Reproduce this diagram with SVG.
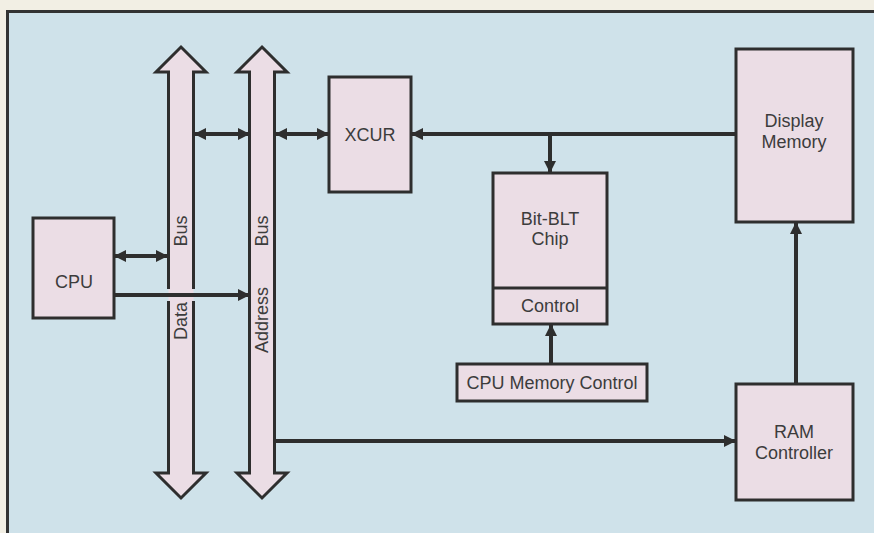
<svg xmlns="http://www.w3.org/2000/svg" width="874" height="533" viewBox="0 0 874 533">
<defs>
<style>
.box{fill:#ebdde5;stroke:#2e2e2e;stroke-width:3}
.busfill{fill:#ebdde5;stroke:none}
.busline{fill:none;stroke:#2e2e2e;stroke-width:3;stroke-linejoin:miter}
.conn{fill:none;stroke:#2e2e2e;stroke-width:4}
.lbl{font-family:"Liberation Sans",Arial,sans-serif;font-size:18px;fill:#3c3c3c;text-anchor:middle}
</style>
<marker id="ah" viewBox="0 0 12 12" refX="11" refY="6" markerWidth="12" markerHeight="12" markerUnits="userSpaceOnUse" orient="auto-start-reverse">
<path d="M0,0 L12,6 L0,12 Z" fill="#2e2e2e"/>
</marker>
</defs>
<rect x="0" y="0" width="874" height="533" fill="#f2efe4"/>
<rect x="7.5" y="11.5" width="880" height="540" fill="#cfe2ea" stroke="#333" stroke-width="3"/>

<g id="data-bus">
<polygon class="busfill" points="181,47 206,72 193.5,72 193.5,473 206,473 181,498 156,473 168.5,473 168.5,72 156,72"/>
<path class="busline" d="M168.5,289 L168.5,72 L156,72 L181,47 L206,72 L193.5,72 L193.5,289"/>
<path class="busline" d="M168.5,301 L168.5,473 L156,473 L181,498 L206,473 L193.5,473 L193.5,301"/>
<text class="lbl" x="181" y="231" transform="rotate(-90 181 231)" dominant-baseline="central">Bus</text>
<text class="lbl" x="181" y="321" transform="rotate(-90 181 321)" dominant-baseline="central">Data</text>
</g>

<g id="address-bus">
<polygon class="busline" style="fill:#ebdde5" points="262,47 287,72 274.5,72 274.5,473 287,473 262,498 237,473 249.5,473 249.5,72 237,72"/>
<text class="lbl" x="262" y="231" transform="rotate(-90 262 231)" dominant-baseline="central">Bus</text>
<text class="lbl" x="262" y="320" transform="rotate(-90 262 320)" dominant-baseline="central">Address</text>
</g>

<g id="cpu">
<rect class="box" x="33" y="218" width="81" height="100"/>
<text class="lbl" x="74" y="288">CPU</text>
</g>

<g id="xcur">
<rect class="box" x="329" y="77" width="82" height="115"/>
<text class="lbl" x="370" y="141">XCUR</text>
</g>

<g id="bitblt">
<rect class="box" x="493" y="173" width="114" height="151"/>
<line x1="493" y1="288" x2="607" y2="288" stroke="#2e2e2e" stroke-width="3"/>
<text class="lbl" x="550" y="225">Bit-BLT</text>
<text class="lbl" x="550" y="245">Chip</text>
<text class="lbl" x="550" y="312">Control</text>
</g>

<g id="cpu-memory-control">
<rect class="box" x="457" y="364" width="190" height="37"/>
<text class="lbl" x="552" y="389">CPU Memory Control</text>
</g>

<g id="display-memory">
<rect class="box" x="736" y="49" width="117" height="173"/>
<text class="lbl" x="794" y="127">Display</text>
<text class="lbl" x="794" y="148">Memory</text>
</g>

<g id="ram-controller">
<rect class="box" x="736" y="384" width="117" height="116"/>
<text class="lbl" x="794" y="438">RAM</text>
<text class="lbl" x="794" y="459">Controller</text>
</g>

<g id="connectors">
<line class="conn" x1="195" y1="134" x2="249" y2="134" marker-start="url(#ah)" marker-end="url(#ah)"/>
<line class="conn" x1="276" y1="134" x2="328" y2="134" marker-start="url(#ah)" marker-end="url(#ah)"/>
<line class="conn" x1="735" y1="134" x2="412" y2="134" marker-end="url(#ah)"/>
<line class="conn" x1="550" y1="134" x2="550" y2="172" marker-end="url(#ah)"/>
<line class="conn" x1="115" y1="256" x2="167" y2="256" marker-start="url(#ah)" marker-end="url(#ah)"/>
<line class="conn" x1="115" y1="295" x2="249" y2="295" marker-end="url(#ah)"/>
<line class="conn" x1="551" y1="363" x2="551" y2="325" marker-end="url(#ah)"/>
<line class="conn" x1="796" y1="383" x2="796" y2="223" marker-end="url(#ah)"/>
<line class="conn" x1="275" y1="441" x2="735" y2="441" marker-end="url(#ah)"/>
</g>
</svg>
